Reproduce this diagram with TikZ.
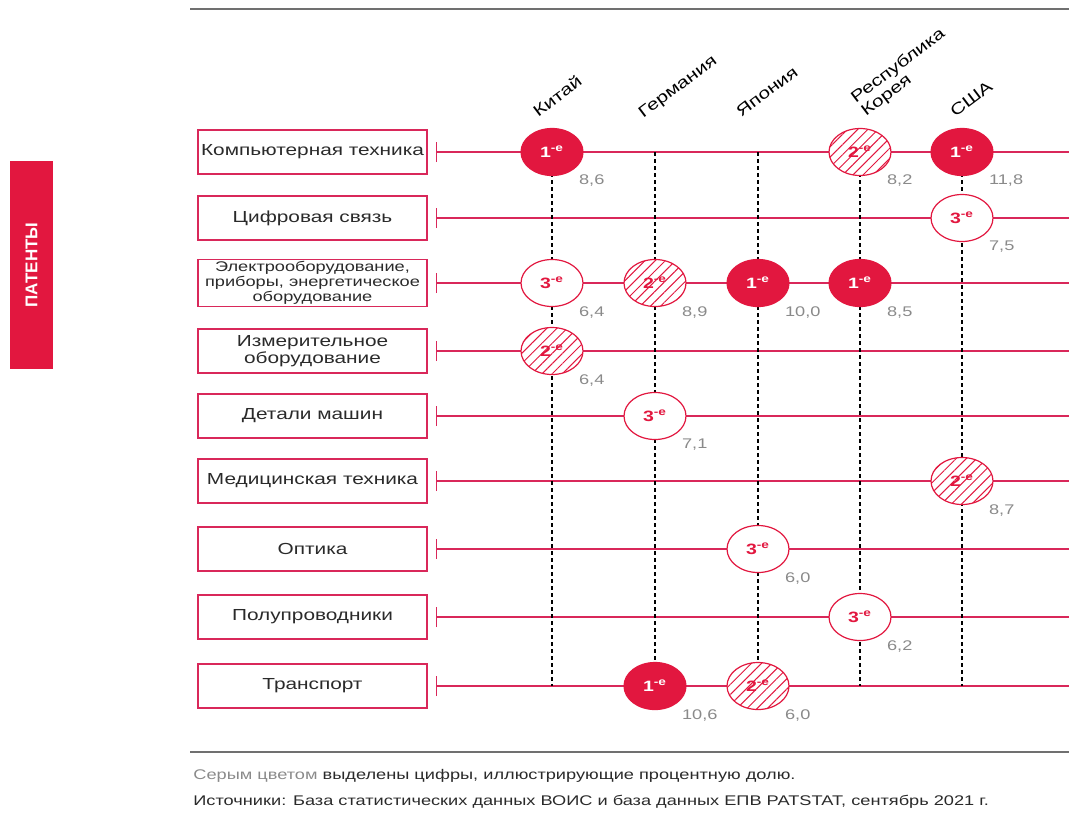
\documentclass[tikz,border=0pt]{standalone}
\usepackage{fontspec}
\setmainfont{Liberation Sans}[FakeStretch=1.3]
\newfontfamily\tabfont{Liberation Sans}
\usepackage{tikz}
\usetikzlibrary{positioning, patterns.meta, shapes.geometric}
\definecolor{patred}{HTML}{E2173F}
\definecolor{patline}{HTML}{D9285A}
\definecolor{patgray}{HTML}{8A8A8A}
\definecolor{patrule}{HTML}{707070}
\definecolor{pattext}{HTML}{2A2A2A}

\begin{document}
\begin{tikzpicture}[x=0.5pt, y=-0.5pt,
    rowbox/.style={draw=patline, line width=0.6pt, minimum width=114.5pt,
                   minimum height=22pt, inner sep=1pt, text=pattext,
                   font=\fontsize{8}{7.5}\selectfont, align=center},
    gridline/.style={patline, line width=0.6pt},
    colline/.style={black, line width=0.7pt, dash pattern=on 2pt off 1.5pt},
    place/.style={ellipse, minimum width=31pt, minimum height=23.5pt,
                  inner sep=0pt, draw=patred, line width=0.6pt,
                  font=\fontsize{7.5}{8}\selectfont\bfseries},
    first/.style={place, fill=patred, text=white},
    second/.style={place, preaction={fill=white},
                   pattern={Lines[angle=45, distance=3.6pt, line width=0.5pt]},
                   pattern color=patred, text=patred},
    third/.style={place, fill=white, text=patred},
    medal/.code={\ifcase#1\or\pgfkeysalso{first}\or\pgfkeysalso{second}\or\pgfkeysalso{third}\fi},
    share/.style={anchor=west, font=\fontsize{7}{8}\selectfont, text=patgray},
    country/.style={rotate=37, font=\fontsize{8}{8.5}\selectfont, inner sep=0pt,
                    align=left}
  ]
    \useasboundingbox (0,0) rectangle (1069,814);

    % side tab and rules
    \node[fill=patred, rotate=90, minimum width=104pt, minimum height=21.5pt,
          text=white, font=\tabfont\fontsize{8.5}{9}\selectfont\bfseries]
      (tab) at (31.5,265) {ПАТЕНТЫ};
    \draw[patrule, line width=0.8pt] (190,9) -- (1069,9);
    \draw[patrule, line width=0.8pt] (190,752) -- (1069,752);

    % countries
    \coordinate (china) at (552,0);
    \coordinate (germany) at (655,0);
    \coordinate (japan) at (758,0);
    \coordinate (korea) at (860,0);
    \coordinate (usa) at (962,0);
    \coordinate (edge) at (1069,0);

    \node[country, anchor=base west] (hchina) at (538,118) {Китай};
    \node[country, anchor=base west] (hgermany) at (643,119) {Германия};
    \node[country, anchor=base west] (hjapan) at (741,118) {Япония};
    \node[country, anchor=south west] (hkorea) at (868,120) {Республика\\Корея};
    \node[country, anchor=base west] (husa) at (955,118) {США};

    % fields
    \node[rowbox] (compute) at (312.5,152) {Компьютерная техника};
    \node[rowbox] (digital) at (312.5,218) {Цифровая связь};
    \node[rowbox, font=\fontsize{7}{6.2}\selectfont] (electro) at (312.5,283)
      {Электрооборудование,\\приборы, энергетическое\\оборудование};
    \node[rowbox] (measure) at (312.5,351) {Измерительное\\оборудование};
    \node[rowbox] (machine) at (312.5,416) {Детали машин};
    \node[rowbox] (medical) at (312.5,481) {Медицинская техника};
    \node[rowbox] (optics) at (312.5,549) {Оптика};
    \node[rowbox] (semi) at (312.5,617) {Полупроводники};
    \node[rowbox] (transport) at (312.5,686) {Транспорт};

    \foreach \r in {compute, digital, electro, measure, machine, medical,
                    optics, semi, transport} {
      \draw[gridline] ([xshift=4.5pt]\r.east) -- (\r.east -| edge);
      \draw[gridline] ([shift={(4.5pt,-5pt)}]\r.east) -- ([shift={(4.5pt,5pt)}]\r.east);
    }

    \foreach \c in {china, germany, japan, korea, usa}
      \draw[colline] (\c |- compute) -- (\c |- transport);

    % ranks and shares
    \foreach \c/\r/\rank/\val in {
        china/compute/1/{8,6}, korea/compute/2/{8,2}, usa/compute/1/{11,8},
        usa/digital/3/{7,5},
        china/electro/3/{6,4}, germany/electro/2/{8,9}, japan/electro/1/{10,0},
        korea/electro/1/{8,5},
        china/measure/2/{6,4},
        germany/machine/3/{7,1},
        usa/medical/2/{8,7},
        japan/optics/3/{6,0},
        korea/semi/3/{6,2},
        germany/transport/1/{10,6}, japan/transport/2/{6,0}} {
      \node[medal=\rank] (\c-\r) at (\c |- \r) {\rank\textsuperscript{-е}};
      \node[share] at ([shift={(10pt,-14.5pt)}]\c-\r.center) {\val};
    }

    % notes
    \node[anchor=base west, inner sep=0pt, text=pattext,
          font=\fontsize{7}{8}\selectfont] (note) at (193,779)
      {\textcolor{patgray}{Серым цветом} выделены цифры, иллюстрирующие процентную долю.};
    \node[anchor=base west, inner sep=0pt, text=pattext,
          font=\fontsize{7}{8}\selectfont] (source) at (193,805)
      {Источники: База статистических данных ВОИС и база данных ЕПВ PATSTAT, сентябрь 2021 г.};
  \end{tikzpicture}
\end{document}
